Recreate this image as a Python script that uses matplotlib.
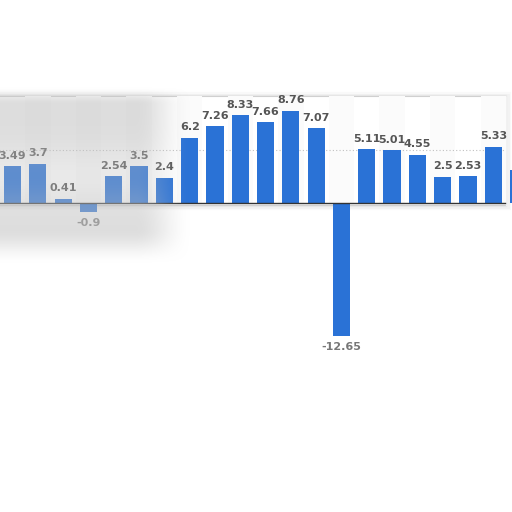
import matplotlib
matplotlib.use("Agg")
import matplotlib.pyplot as plt
from matplotlib.patches import Rectangle
import numpy as np

# values, left to right (last one is cut by the frame)
values = [3.49, 3.7, 0.41, -0.9, 2.54, 3.5, 2.4, 6.2, 7.26, 8.33, 7.66, 8.76,
          7.07, -12.65, 5.11, 5.01, 4.55, 2.5, 2.53, 5.33, 3.1]
labels = ["3.49", "3.7", "0.41", "-0.9", "2.54", "3.5", "2.4", "6.2", "7.26", "8.33",
          "7.66", "8.76", "7.07", "-12.65", "5.11", "5.01", "4.55", "2.5", "2.53",
          "5.33", "3.1"]
positions = list(range(len(values)))

blue = "#2a72d6"

fig = plt.figure(figsize=(5.12, 5.12), dpi=100)
ax = fig.add_axes([0, 0, 1, 1])
ax.set_xlim(-0.498, 19.74)
ax.set_ylim(-29.29, 19.24)
ax.axis("off")

# white card with soft shadow
for k, a in enumerate([0.05, 0.07, 0.10]):
    d = (3 - k) * 0.05
    ax.add_patch(Rectangle((-1, -0.2 - d * 2), 20.47 + d, 10.35 + d * 3,
                           facecolor="none", edgecolor="#999999", alpha=a,
                           linewidth=3 - k, zorder=1))
ax.add_patch(Rectangle((-1, -0.2), 20.47, 10.35, facecolor="white",
                       edgecolor="#d0d0d0", linewidth=0.8, zorder=1))
for i in positions[1::2]:
    if i < 20:
        ax.add_patch(Rectangle((i - 0.5, -0.2), 1, 10.35, facecolor="#fbfbfb",
                               edgecolor="none", zorder=1.2))

ax.plot([-1, 19.47], [5, 5], color="#c0c0c0", linestyle=(0, (1, 2)),
        linewidth=0.8, zorder=1.5)

ax.bar(positions, values, width=0.68, color=blue, zorder=2)
ax.plot([-1, 19.47], [0, 0], color="#333333", linewidth=1.0, zorder=3)

for x, v, t in zip(positions, values, labels):
    if v >= 0:
        ax.annotate(t, (x, v), xytext=(0, 4), textcoords="offset points",
                    ha="center", va="bottom", fontsize=8, fontweight="bold",
                    color="#555555", zorder=4)
    else:
        ax.annotate(t, (x, v), xytext=(0, -4), textcoords="offset points",
                    ha="center", va="top", fontsize=8, fontweight="bold",
                    color="#777777", zorder=4)

# blurred smudge over the left part of the screenshot
ov = fig.add_axes([0, 0, 1, 1])
ov.axis("off")
py, px = np.mgrid[0:512, 0:512].astype(float)

def smooth(a, b, x):
    t = np.clip((x - a) / (b - a), 0, 1)
    return t * t * (3 - 2 * t)

fade = (smooth(86, 104, py) * (1 - smooth(228, 264, py))
        * (1 - smooth(135, 192, px)))
alpha = fade * (0.55 - 0.2 * np.exp(-((py - 175) / 30.0) ** 2))
rgba = np.zeros((512, 512, 4))
rgba[..., :3] = 0.76
rgba[..., 3] = alpha
ov.imshow(rgba, extent=[0, 512, 512, 0], interpolation="bilinear")
ov.set_xlim(0, 512)
ov.set_ylim(512, 0)

fig.savefig("out.png", dpi=100)
